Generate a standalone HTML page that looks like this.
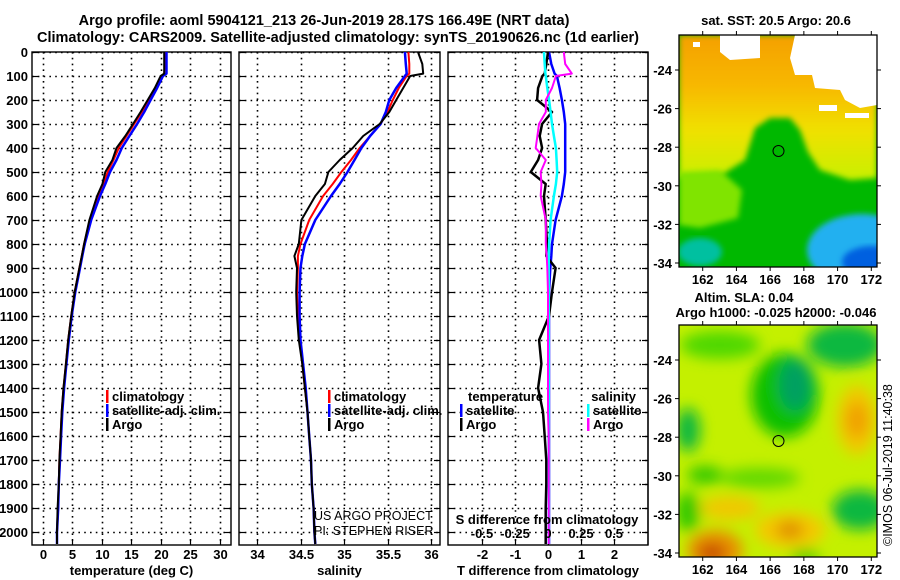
<!DOCTYPE html>
<html><head><meta charset="utf-8">
<style>
html,body{margin:0;padding:0;background:#fff;}
svg{display:block;font-family:"Liberation Sans",sans-serif;}
.b{font-weight:bold;font-size:13px;}
</style></head>
<body>
<svg id="c" width="900" height="580" viewBox="0 0 900 580" xmlns="http://www.w3.org/2000/svg">
<defs>
<filter id="bl" x="-10%" y="-10%" width="120%" height="120%"><feGaussianBlur stdDeviation="7"/></filter>
<filter id="bl2" x="-10%" y="-10%" width="120%" height="120%"><feGaussianBlur stdDeviation="3"/></filter>
<linearGradient id="sstg" x1="0" y1="0" x2="0" y2="1">
<stop offset="0" stop-color="#f4a000"/><stop offset="0.35" stop-color="#f8b800"/><stop offset="0.65" stop-color="#f0e000"/><stop offset="1" stop-color="#c8f000"/>
</linearGradient>
<clipPath id="m1"><rect x="679" y="35" width="198" height="232"/></clipPath>
<clipPath id="m2"><rect x="679" y="325" width="198" height="232"/></clipPath>
</defs>
<g class="b" text-anchor="middle">
<text x="324" y="25" font-size="14.5">Argo profile: aoml 5904121_213 26-Jun-2019 28.17S 166.49E (NRT data)</text>
<text x="338" y="42" font-size="14.5">Climatology: CARS2009. Satellite-adjusted climatology: synTS_20190626.nc (1d earlier)</text>
</g>
<g id="plots"></g>

<!-- SST map -->
<g>
<text class="b" x="776" y="25" text-anchor="middle">sat. SST: 20.5 Argo: 20.6</text>
<g clip-path="url(#m1)">
<rect x="679" y="35" width="198" height="232" fill="#00b800"/>
<path d="M679,35 L877,35 L877,178 L850,180 L820,170 L808,152 L800,130 L790,118 L770,118 L755,128 L745,160 L720,176 L679,178 Z" fill="url(#sstg)" filter="url(#bl2)"/>
<path d="M679,172 L720,170 L742,190 L738,218 L700,228 L679,225 Z" fill="#80e400" filter="url(#bl2)"/>
<ellipse cx="700" cy="252" rx="22" ry="14" fill="#00c0a0" filter="url(#bl2)"/>
<ellipse cx="862" cy="250" rx="55" ry="36" fill="#20b0f0" filter="url(#bl2)"/>
<ellipse cx="872" cy="262" rx="30" ry="16" fill="#0060e0" filter="url(#bl2)"/>
<path d="M720,35 L760,35 L760,58 L730,60 L720,52 Z" fill="#fff"/>
<path d="M795,35 L877,35 L877,105 L860,108 L845,100 L840,90 L815,88 L812,75 L795,75 L790,58 Z" fill="#fff"/>
<rect x="819" y="105" width="18" height="6" fill="#fff"/><rect x="845" y="113" width="24" height="5" fill="#fff"/>
<path d="M693,42 L700,42 L700,47 L693,47 Z" fill="#fff"/>
</g>
<rect x="679" y="35" width="198" height="232" fill="none" stroke="#000" stroke-width="1.3"/>
<circle cx="778.5" cy="151" r="5.5" fill="none" stroke="#000" stroke-width="1"/>
</g>
<!-- SLA map -->
<g>
<text class="b" x="744" y="302" text-anchor="middle">Altim. SLA: 0.04</text>
<text class="b" x="776" y="317" text-anchor="middle">Argo h1000: -0.025 h2000: -0.046</text>
<g clip-path="url(#m2)">
<rect x="679" y="325" width="198" height="232" fill="#c4f000"/>
<g filter="url(#bl)">
<ellipse cx="785" cy="395" rx="34" ry="42" fill="#10c000"/>
<ellipse cx="795" cy="385" rx="16" ry="26" fill="#00a060"/>
<ellipse cx="720" cy="345" rx="40" ry="14" fill="#50d800"/>
<ellipse cx="845" cy="345" rx="38" ry="22" fill="#10b840"/>
<ellipse cx="688" cy="430" rx="12" ry="22" fill="#10b840"/>
<ellipse cx="705" cy="475" rx="18" ry="9" fill="#30c800"/>
<ellipse cx="760" cy="478" rx="40" ry="10" fill="#60d800"/>
<ellipse cx="860" cy="510" rx="28" ry="20" fill="#10b840"/>
<ellipse cx="688" cy="512" rx="12" ry="20" fill="#30c800"/>
<ellipse cx="857" cy="420" rx="20" ry="35" fill="#f0c800"/>
<ellipse cx="857" cy="420" rx="11" ry="18" fill="#f0a000"/>
<ellipse cx="730" cy="508" rx="30" ry="12" fill="#f0c800"/>
<ellipse cx="790" cy="530" rx="35" ry="18" fill="#f4c800"/>
<ellipse cx="790" cy="530" rx="14" ry="9" fill="#e09000"/>
<ellipse cx="715" cy="550" rx="28" ry="20" fill="#e89000"/>
<ellipse cx="712" cy="553" rx="14" ry="10" fill="#c85000"/>
<ellipse cx="805" cy="556" rx="15" ry="6" fill="#30c800"/>
</g>
</g>
<rect x="679" y="325" width="198" height="232" fill="none" stroke="#000" stroke-width="1.3"/>
<circle cx="778.5" cy="441" r="5.5" fill="none" stroke="#000" stroke-width="1"/>
<text transform="translate(892,546) rotate(-90)" font-size="12.5" fill="#000">©IMOS 06-Jul-2019 11:40:38</text>
</g>
<g id="mapaxes"></g>
<line x1="648" y1="52" x2="648" y2="545" stroke="#000" stroke-width="1.3"/>
</svg>
<script>
const depths=[0,50,90,100,150,200,250,300,350,400,450,500,550,600,700,800,850,900,1000,1100,1200,1300,1400,1500,1600,1700,1800,1900,2000,2050];
const tempArgo=[20.6,20.6,20.6,20.0,19.0,17.8,16.6,15.3,14.0,12.5,11.8,10.6,10.1,9.2,7.9,7.0,6.6,6.2,5.4,4.8,4.3,3.9,3.5,3.2,3.0,2.8,2.7,2.5,2.4,2.4];
const tempClim=[20.7,20.7,20.6,20.2,19.2,18.0,16.8,15.5,14.2,12.9,12.0,11.0,10.3,9.4,8.0,7.0,6.6,6.2,5.4,4.8,4.3,3.9,3.5,3.2,3.0,2.8,2.7,2.6,2.4,2.4];
const tempSat=[21.0,21.0,21.0,20.4,19.4,18.3,17.2,16.0,14.7,13.4,12.5,11.4,10.6,9.7,8.2,7.1,6.7,6.3,5.5,4.9,4.4,4.0,3.6,3.3,3.1,2.9,2.7,2.6,2.4,2.4];
const salArgo=[35.85,35.9,35.91,35.76,35.68,35.6,35.52,35.41,35.22,35.1,34.95,34.82,34.78,34.67,34.51,34.48,34.43,34.46,34.45,34.46,34.48,34.52,34.55,34.58,34.6,34.62,34.63,34.65,34.66,34.67];
const salClim=[35.74,35.75,35.75,35.72,35.63,35.56,35.5,35.42,35.3,35.18,35.08,34.97,34.87,34.76,34.6,34.5,34.47,34.47,34.46,34.47,34.49,34.52,34.55,34.58,34.6,34.62,34.63,34.65,34.66,34.67];
const salSat=[35.7,35.71,35.72,35.7,35.6,35.52,35.48,35.42,35.3,35.2,35.12,35.04,34.95,34.85,34.67,34.55,34.52,34.5,34.49,34.49,34.5,34.53,34.56,34.58,34.6,34.62,34.63,34.65,34.66,34.67];
const dTArgo=[0.0,-0.05,-0.1,-0.17,-0.3,-0.33,0.12,-0.18,-0.25,-0.18,-0.3,-0.52,-0.07,-0.12,-0.07,-0.03,-0.05,0.23,0.12,0.03,-0.27,-0.2,-0.3,-0.15,-0.1,-0.05,-0.05,-0.07,-0.07,-0.07];
const dTSat=[0.03,0.1,0.2,0.27,0.35,0.42,0.48,0.52,0.52,0.52,0.52,0.52,0.48,0.42,0.23,0.12,0.1,0.07,0.03,0.03,0.03,0.03,0.03,0.03,0.03,0.03,0.03,0.03,0.03,0.03];
const dSArgo=[0.12,0.13,0.18,0.06,0.03,-0.017,-0.017,-0.068,-0.08,-0.093,-0.017,-0.055,-0.05,-0.055,-0.017,-0.017,-0.01,-0.005,0,0,0,0,0,0,0.005,0.005,0.005,0.005,0.005,0.005];
const dSSat=[-0.03,-0.025,-0.02,-0.017,-0.005,0.008,0.02,0.03,0.045,0.06,0.065,0.07,0.06,0.045,0.02,0.008,0.006,0.005,0.005,0.005,0.005,0.005,0.005,0.005,0.005,0.005,0.005,0.005,0.005,0.005];
const depthTicks=[0,100,200,300,400,500,600,700,800,900,1000,1100,1200,1300,1400,1500,1600,1700,1800,1900,2000];
const tempTicks=[0,5,10,15,20,25,30];
const salTicks=[34,34.5,35,35.5,36];
const dTTicks=[-2,-1,0,1,2];
const dSTicks=[-0.5,-0.25,0,0.25,0.5];
const dSTickLabels=["-0.5","-0.25","0","0.25","0.5"];
const lonTicks=[162,164,166,168,170,172];
const latTicks=[-24,-26,-28,-30,-32,-34];

const NS="http://www.w3.org/2000/svg";
const plots=document.getElementById('plots');
function mk(tag,attrs,parent){const e=document.createElementNS(NS,tag);for(const k in attrs)e.setAttribute(k,attrs[k]);(parent||plots).appendChild(e);return e;}
const Y0=52,YB=545;
function yD(d){return Y0+d*0.24;}
function lin(d0,d1,r0,r1){return v=>r0+(v-d0)/(d1-d0)*(r1-r0);}
const GRID={stroke:'#000','stroke-width':1.6,'stroke-dasharray':'1.6 4.2'};
const panels=[
 {x0:32,x1:231,sx:lin(-1.85,31.95,32,231),ticks:tempTicks,labels:tempTicks.map(String),title:"temperature (deg C)",name:"temperature"},
 {x0:239,x1:440,sx:lin(33.793,36.103,239,440),ticks:salTicks,labels:salTicks.map(String),title:"salinity",name:"salinity"},
 {x0:448,x1:648,sx:lin(-3.03,3.03,448,648),ticks:dTTicks,labels:dTTicks.map(String),title:"T difference from climatology",name:"difference"}
];
panels.forEach(p=>{
 const g=mk('g',{});
 
 
 depthTicks.forEach(d=>{
  const y=Math.round(yD(d))+0.5;
  const l=mk('line',Object.assign({x1:p.x0,x2:p.x1,y1:y,y2:y},GRID),g);
  
  
  mk('line',{x1:p.x0,x2:p.x0+6,y1:y,y2:y,stroke:'#000','stroke-width':1.2},g);
  mk('line',{x1:p.x1-6,x2:p.x1,y1:y,y2:y,stroke:'#000','stroke-width':1.2},g);
 });
 p.ticks.forEach((t,i)=>{
  const x=Math.round(p.sx(t))+0.5;
  const l=mk('line',Object.assign({x1:x,x2:x,y1:Y0,y2:YB},GRID),g);
  
  
  mk('line',{x1:x,x2:x,y1:YB-6,y2:YB,stroke:'#000','stroke-width':1.2},g);
  const tx=mk('text',{x:x,y:559,'text-anchor':'middle','class':'b'},g);
  tx.textContent=p.labels[i];
  
  
 });
 mk('rect',{x:p.x0,y:Y0,width:p.x1-p.x0,height:YB-Y0,fill:'none',stroke:'#000','stroke-width':1.4},g);
 const at=mk('text',{x:(p.x0+p.x1)/2,y:575,'text-anchor':'middle','class':'b'},g);
 at.textContent=p.title;
 
 
 p.g=g;
});
depthTicks.forEach(d=>{
 const t=mk('text',{x:28,y:yD(d)+5,'text-anchor':'end','class':'b'});
 t.textContent=String(d);
 
 
});
function line(vals,sx,color,w,name,parent){
 const pts=vals.map((v,i)=>sx(v).toFixed(1)+','+yD(depths[i]).toFixed(1)).join(' ');
 const pl=mk('polyline',{points:pts,fill:'none',stroke:color,'stroke-width':w,'stroke-linejoin':'round'},parent);
 
 
}
line(tempClim,panels[0].sx,'#f00',2,'temperature-climatology-line',panels[0].g);
line(tempSat,panels[0].sx,'#00f',2.5,'temperature-satellite-line',panels[0].g);
line(tempArgo,panels[0].sx,'#000',2,'temperature-argo-line',panels[0].g);
line(salClim,panels[1].sx,'#f00',2,'salinity-climatology-line',panels[1].g);
line(salSat,panels[1].sx,'#00f',2.5,'salinity-satellite-line',panels[1].g);
line(salArgo,panels[1].sx,'#000',2,'salinity-argo-line',panels[1].g);
const sxS=lin(-0.7575,0.7575,448,648);
line(dTSat,panels[2].sx,'#00f',2.5,'t-diff-satellite-line',panels[2].g);
line(dTArgo,panels[2].sx,'#000',2.5,'t-diff-argo-line',panels[2].g);
line(dSSat,sxS,'#0ff',2.5,'s-diff-satellite-line',panels[2].g);
line(dSArgo,sxS,'#f0f',2,'s-diff-argo-line',panels[2].g);
const sTitle=mk('text',{x:547,y:524,'text-anchor':'middle','class':'b'});
sTitle.textContent='S difference from climatology';


dSTicks.forEach((t,i)=>{
 const tx=mk('text',{x:sxS(t),y:538,'text-anchor':'middle','class':'b'});
 tx.textContent=dSTickLabels[i];
 
 
});
function legend(x,y,color,label){
 const g=mk('g',{});
 
 
 mk('rect',{x:x,y:y-11,width:2.5,height:13,fill:color},g);
 const t=mk('text',{x:x+6,y:y,'class':'b'},g);
 t.textContent=label;
}
legend(106,401,'#f00','climatology');legend(106,415,'#00f','satellite-adj. clim.');legend(106,429,'#000','Argo');
legend(328,401,'#f00','climatology');legend(328,415,'#00f','satellite-adj. clim.');legend(328,429,'#000','Argo');
const tl=mk('text',{x:468,y:401,'class':'b'});tl.textContent='temperature';


legend(460,415,'#00f','satellite');legend(460,429,'#000','Argo');
const sl=mk('text',{x:636,y:401,'class':'b','text-anchor':'end'});sl.textContent='salinity';


legend(587,415,'#0ff','satellite');legend(587,429,'#f0f','Argo');
const c1=mk('text',{x:314,y:520,'font-size':'12.5'});c1.textContent='US ARGO PROJECT';


const c2=mk('text',{x:314,y:535,'font-size':'12.5'});c2.textContent='PI: STEPHEN RISER';


const ma=document.getElementById('mapaxes');
const lonX=lin(162,172,702.7,871.3);
const latY=lin(-24,-34,70,263);
[[35,267],[325,557]].forEach(([top,bot])=>{
 const off=top-35;
 lonTicks.forEach(l=>{
  const x=lonX(l);
  mk('line',{x1:x,x2:x,y1:top,y2:top-4,stroke:'#000'},ma);
  mk('line',{x1:x,x2:x,y1:bot,y2:bot+4,stroke:'#000'},ma);
  const t=mk('text',{x:x,y:bot+17,'text-anchor':'middle','class':'b'},ma);
  t.textContent=String(l);
  
  
 });
 latTicks.forEach(l=>{
  const y=latY(l)+off;
  mk('line',{x1:679,x2:675,y1:y,y2:y,stroke:'#000'},ma);
  mk('line',{x1:877,x2:881,y1:y,y2:y,stroke:'#000'},ma);
  const t=mk('text',{x:672,y:y+5,'text-anchor':'end','class':'b'},ma);
  t.textContent=String(l);
  
  
 });
});
</script>
</body></html>
